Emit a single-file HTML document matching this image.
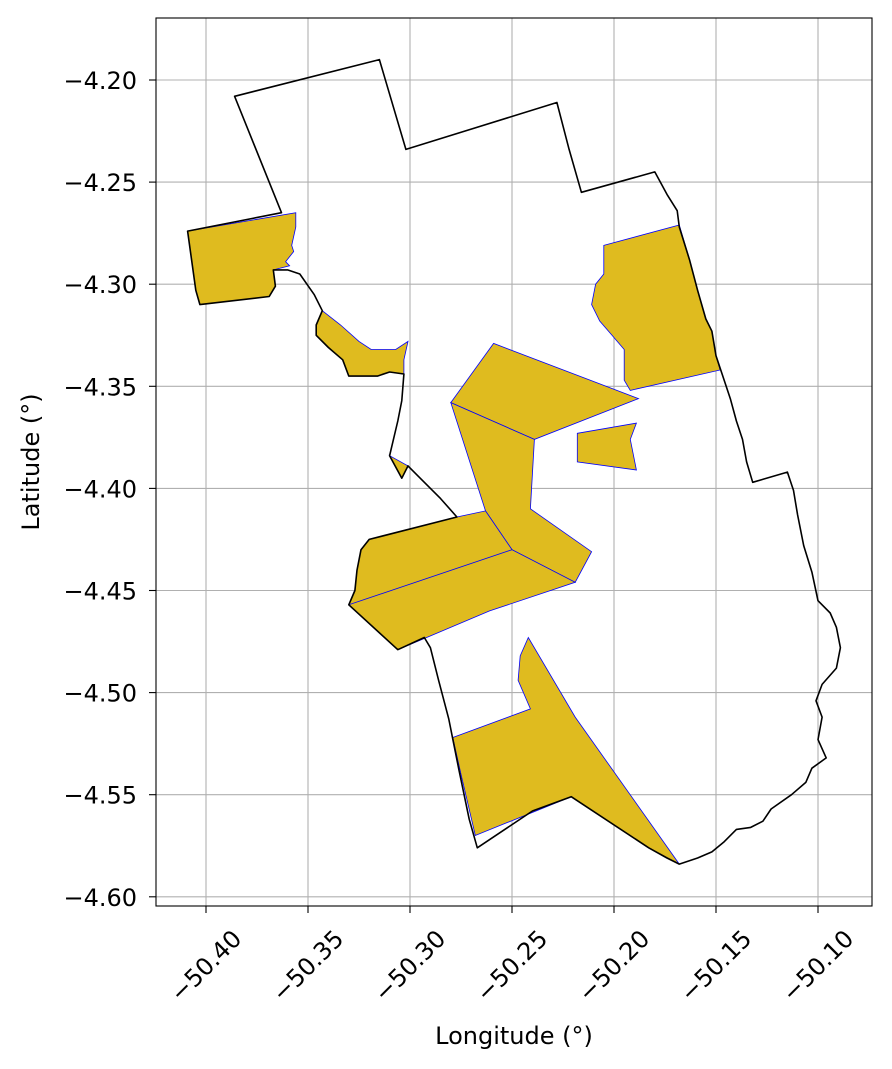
<!DOCTYPE html>
<html><head><meta charset="utf-8"><style>
html,body{margin:0;padding:0;background:#fff;}
svg{display:block;font-family:"DejaVu Sans","Liberation Sans",sans-serif;}
</style></head><body>
<svg id="chart" width="892" height="1069" viewBox="0 0 892 1069"></svg>
<script>
const xTicks=[-50.40,-50.35,-50.30,-50.25,-50.20,-50.15,-50.10];
const yTicks=[-4.20,-4.25,-4.30,-4.35,-4.40,-4.45,-4.50,-4.55,-4.60];
const outline=[[-50.386,-4.208],[-50.315,-4.190],[-50.302,-4.234],[-50.228,-4.211],[-50.222,-4.234],[-50.216,-4.255],[-50.180,-4.245],[-50.174,-4.256],[-50.169,-4.264],[-50.168,-4.272],[-50.163,-4.288],[-50.159,-4.303],[-50.155,-4.317],[-50.152,-4.323],[-50.150,-4.335],[-50.147,-4.344],[-50.143,-4.356],[-50.140,-4.367],[-50.137,-4.376],[-50.135,-4.387],[-50.132,-4.397],[-50.115,-4.392],[-50.112,-4.401],[-50.110,-4.413],[-50.107,-4.428],[-50.103,-4.441],[-50.100,-4.455],[-50.094,-4.461],[-50.091,-4.468],[-50.089,-4.478],[-50.091,-4.488],[-50.098,-4.496],[-50.101,-4.504],[-50.098,-4.512],[-50.100,-4.523],[-50.096,-4.532],[-50.103,-4.537],[-50.106,-4.544],[-50.113,-4.550],[-50.123,-4.557],[-50.127,-4.563],[-50.133,-4.566],[-50.140,-4.567],[-50.146,-4.573],[-50.152,-4.578],[-50.159,-4.581],[-50.168,-4.584],[-50.174,-4.581],[-50.183,-4.576],[-50.221,-4.551],[-50.240,-4.558],[-50.267,-4.576],[-50.271,-4.562],[-50.276,-4.538],[-50.281,-4.513],[-50.286,-4.494],[-50.290,-4.478],[-50.293,-4.473],[-50.306,-4.479],[-50.330,-4.457],[-50.327,-4.450],[-50.326,-4.440],[-50.324,-4.430],[-50.320,-4.425],[-50.277,-4.414],[-50.285,-4.405],[-50.295,-4.395],[-50.301,-4.389],[-50.304,-4.395],[-50.310,-4.384],[-50.306,-4.367],[-50.304,-4.357],[-50.303,-4.344],[-50.310,-4.343],[-50.316,-4.345],[-50.330,-4.345],[-50.333,-4.337],[-50.340,-4.331],[-50.346,-4.325],[-50.346,-4.320],[-50.343,-4.313],[-50.347,-4.305],[-50.354,-4.295],[-50.360,-4.293],[-50.367,-4.293],[-50.366,-4.301],[-50.369,-4.306],[-50.403,-4.310],[-50.405,-4.303],[-50.409,-4.274],[-50.363,-4.265]];
const areaNW=[[-50.409,-4.274],[-50.356,-4.265],[-50.356,-4.272],[-50.358,-4.281],[-50.357,-4.284],[-50.361,-4.289],[-50.359,-4.291],[-50.367,-4.293],[-50.366,-4.301],[-50.369,-4.306],[-50.403,-4.310],[-50.405,-4.303]];
const areaMid=[[-50.343,-4.313],[-50.334,-4.320],[-50.325,-4.328],[-50.319,-4.332],[-50.307,-4.332],[-50.301,-4.328],[-50.303,-4.337],[-50.303,-4.344],[-50.310,-4.343],[-50.316,-4.345],[-50.330,-4.345],[-50.333,-4.337],[-50.340,-4.331],[-50.346,-4.325],[-50.346,-4.320]];
const areaTri=[[-50.310,-4.384],[-50.301,-4.389],[-50.304,-4.395]];
const areaNE=[[-50.205,-4.281],[-50.168,-4.271],[-50.163,-4.288],[-50.159,-4.303],[-50.155,-4.317],[-50.152,-4.323],[-50.150,-4.335],[-50.148,-4.342],[-50.192,-4.352],[-50.195,-4.347],[-50.195,-4.332],[-50.201,-4.325],[-50.207,-4.318],[-50.211,-4.310],[-50.209,-4.300],[-50.205,-4.295]];
const areaTop=[[-50.280,-4.358],[-50.259,-4.329],[-50.188,-4.356],[-50.239,-4.376]];
const areaCenter=[[-50.280,-4.358],[-50.239,-4.376],[-50.241,-4.410],[-50.211,-4.431],[-50.219,-4.446],[-50.250,-4.430],[-50.263,-4.411]];
const areaSmall=[[-50.218,-4.373],[-50.189,-4.368],[-50.192,-4.376],[-50.189,-4.391],[-50.218,-4.387]];
const areaSW=[[-50.330,-4.457],[-50.327,-4.450],[-50.326,-4.440],[-50.324,-4.430],[-50.320,-4.425],[-50.277,-4.414],[-50.263,-4.411],[-50.250,-4.430],[-50.219,-4.446],[-50.261,-4.460],[-50.306,-4.479]];
const areaSWsplit=[[-50.330,-4.457],[-50.250,-4.430]];
const areaSouth=[[-50.279,-4.522],[-50.241,-4.508],[-50.247,-4.494],[-50.246,-4.482],[-50.242,-4.473],[-50.219,-4.512],[-50.168,-4.584],[-50.183,-4.576],[-50.221,-4.551],[-50.268,-4.570],[-50.275,-4.540]];
const areas=[["area-nw",areaNW],["area-mid-west",areaMid],["area-triangle",areaTri],["area-northeast",areaNE],["area-top-center",areaTop],["area-center",areaCenter],["area-small-east",areaSmall],["area-southwest",areaSW],["area-south",areaSouth]];

const L=156,R=872,T=18,B=906;
const sx=v=>206+(v+50.40)/0.05*102;
const sy=v=>80+(-4.20-v)/0.05*102.1;
const svg=document.getElementById('chart');
const NS='http://www.w3.org/2000/svg';
function mk(tag,attrs,parent){const e=document.createElementNS(NS,tag);for(const k in attrs)e.setAttribute(k,attrs[k]);(parent||svg).appendChild(e);return e;}
const pts=a=>a.map(p=>sx(p[0]).toFixed(1)+','+sy(p[1]).toFixed(1)).join(' ');

xTicks.forEach(t=>{const g=mk('line',{x1:sx(t),x2:sx(t),y1:T,y2:B,stroke:'#b0b0b0','stroke-width':1.1});

});
yTicks.forEach(t=>{const g=mk('line',{x1:L,x2:R,y1:sy(t),y2:sy(t),stroke:'#b0b0b0','stroke-width':1.1});

});

areas.forEach(([n,a])=>{const p=mk('polygon',{points:pts(a),fill:'#dfbb1f',stroke:'#0000ff','stroke-width':0.8});

});
const sp=mk('polyline',{points:pts(areaSWsplit),fill:'none',stroke:'#0000ff','stroke-width':0.8});



const ol=mk('polygon',{points:pts(outline),fill:'none',stroke:'#000','stroke-width':1.6,'stroke-linejoin':'round'});



const fr=mk('rect',{x:L,y:T,width:R-L,height:B-T,fill:'none',stroke:'#000','stroke-width':1.1});



xTicks.forEach(t=>{const x=sx(t);
const tk=mk('line',{x1:x,x2:x,y1:B,y2:B+7,stroke:'#000','stroke-width':1.1});


const cy=966;
const tx=mk('text',{x:x,y:cy+8,'font-size':24,'text-anchor':'middle',transform:`rotate(-45 ${x} ${cy})`});
tx.textContent='\u2212'+Math.abs(t).toFixed(2);

});
yTicks.forEach(t=>{const y=sy(t);
const tk=mk('line',{x1:L-7,x2:L,y1:y,y2:y,stroke:'#000','stroke-width':1.1});


const tx=mk('text',{x:L-19,y:y+9,'font-size':24,'text-anchor':'end'});
tx.textContent='\u2212'+Math.abs(t).toFixed(2);

});

const xt=mk('text',{x:514,y:1044,'font-size':24,'text-anchor':'middle'});
xt.textContent='Longitude (°)';


const yt=mk('text',{x:39,y:462,'font-size':24,'text-anchor':'middle',transform:'rotate(-90 39 462)'});
yt.textContent='Latitude (°)';


</script>
</body></html>
